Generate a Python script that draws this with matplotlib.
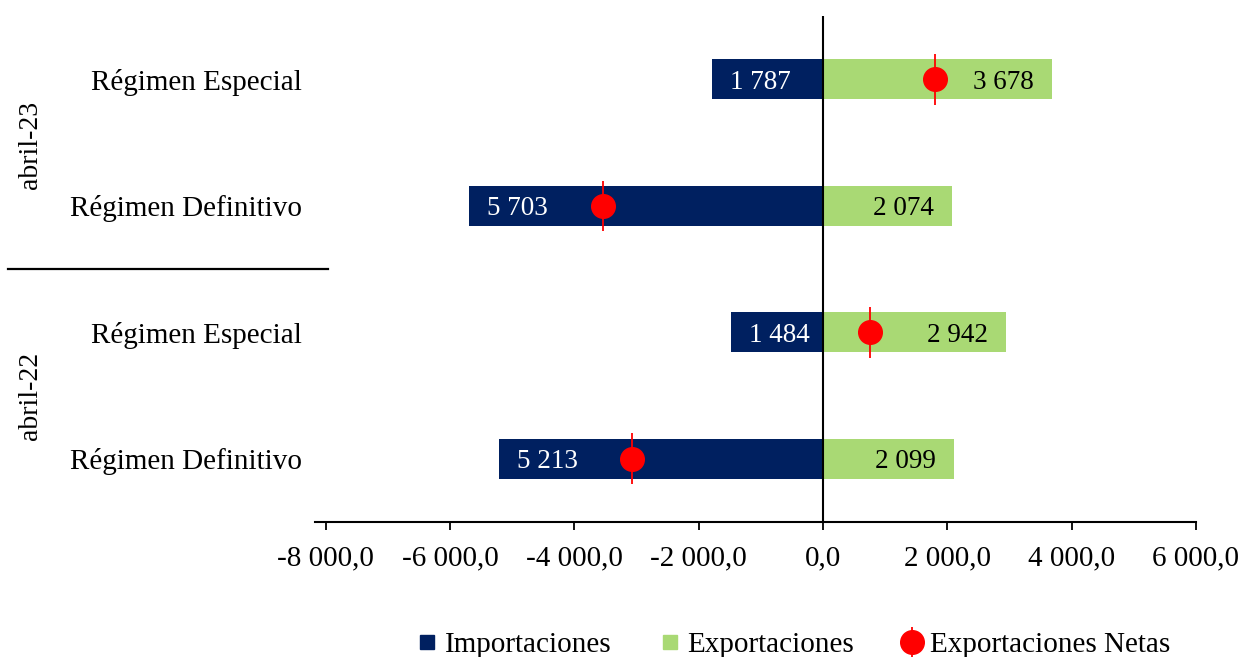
import matplotlib
matplotlib.use('Agg')
import matplotlib.pyplot as plt
from matplotlib.lines import Line2D

plt.rcParams['font.family'] = ['Liberation Serif', 'DejaVu Serif']

# Rows from bottom to top
categorias = ['Régimen Definitivo', 'Régimen Especial', 'Régimen Definitivo', 'Régimen Especial']
periodos = ['abril-22', 'abril-23']
importaciones = [-5213, -1484, -5703, -1787]
exportaciones = [2099, 2942, 2074, 3678]
exportaciones_netas = [-3075, 762, -3548, 1797]
ticks_x = [-8000, -6000, -4000, -2000, 0, 2000, 4000, 6000]

COLOR_IMP = '#002060'
COLOR_EXP = '#A9D974'
COLOR_NETO = '#FF0000'


def fmt_miles(v, dec=0):
    s = f'{abs(v):,.{dec}f}'.replace(',', ' ').replace('.', ',')
    return ('-' if v < 0 else '') + s


fig = plt.figure(figsize=(12.4, 6.57), dpi=100)
ax = fig.add_axes([0.254, 0.2055, 0.7105, 0.770])

pos = list(range(len(categorias)))
ax.barh(pos, importaciones, height=0.315, color=COLOR_IMP, zorder=2)
ax.barh(pos, exportaciones, height=0.315, color=COLOR_EXP, zorder=2)
neto = ax.errorbar(exportaciones_netas, pos, yerr=0.2, fmt='o', color=COLOR_NETO,
                   ecolor=COLOR_NETO, elinewidth=1.3, capsize=0, markersize=17, zorder=4)

# data labels at the inner end of each bar
for y, v in zip(pos, importaciones):
    ax.annotate(fmt_miles(abs(v)), (v, y), xytext=(13, 0), textcoords='offset points',
                ha='left', va='center_baseline', color='white', fontsize=19.5, zorder=5)
for y, v in zip(pos, exportaciones):
    ax.annotate(fmt_miles(v), (v, y), xytext=(-13, 0), textcoords='offset points',
                ha='right', va='center_baseline', color='black', fontsize=19.5, zorder=5)

ax.axvline(0, color='black', lw=1.5, zorder=3)

ax.set_xlim(-8176, 6000)
ax.set_ylim(-0.5, 3.5)
ax.set_xticks(ticks_x)
ax.set_xticklabels([fmt_miles(t, 1) for t in ticks_x], fontsize=21)
ax.set_yticks(pos)
ax.set_yticklabels(categorias, fontsize=21)
ax.tick_params(axis='y', length=0, pad=9.5)
ax.tick_params(axis='x', length=6, width=1.3, pad=11, direction='out')
for side in ['top', 'right', 'left']:
    ax.spines[side].set_visible(False)
ax.spines['bottom'].set_linewidth(1.5)

# period labels and separator
fig.text(30 / 1240, 1 - 145 / 657, periodos[1], rotation=90, ha='center', va='center', fontsize=20)
fig.text(30 / 1240, 1 - 396 / 657, periodos[0], rotation=90, ha='center', va='center', fontsize=20)
fig.add_artist(Line2D([8 / 1240, 328 / 1240], [1 - 269 / 657, 1 - 269 / 657],
                      color='black', lw=1.6, transform=fig.transFigure))

h_imp = Line2D([], [], marker='s', ls='none', color=COLOR_IMP, markersize=10)
h_exp = Line2D([], [], marker='s', ls='none', color=COLOR_EXP, markersize=10)
fig.legend([h_imp, h_exp, neto], ['Importaciones', 'Exportaciones', 'Exportaciones Netas'],
           loc='center', bbox_to_anchor=(793 / 1240, 1 - 645 / 657), ncol=3, frameon=False,
           fontsize=21, handlelength=0.8, handletextpad=0.2, columnspacing=1.6)

fig.savefig('out.png', dpi=100)
